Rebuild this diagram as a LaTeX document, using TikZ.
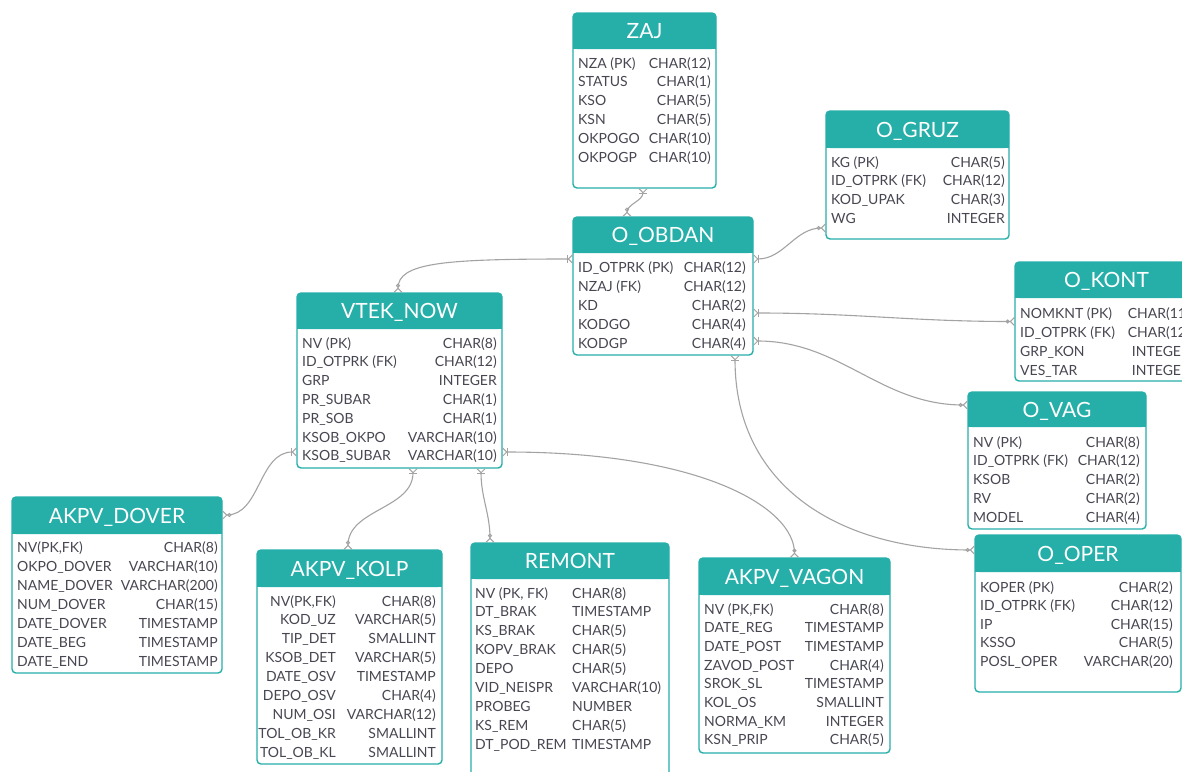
\documentclass[tikz,border=0pt]{standalone}
\usepackage{fontspec}
\setmainfont{Lato}
\usetikzlibrary{arrows.meta,fit}
\definecolor{hdr}{HTML}{26AFA9}
\definecolor{txt}{HTML}{474752}
\definecolor{lnk}{HTML}{A3A3A3}
\tikzset{
  ft/.style={inner sep=0pt, text=txt, font=\fontsize{14}{16}\selectfont, text height=10.1pt, text depth=0pt},
  ttl/.style={inner sep=0pt, text=white, font=\fontsize{21}{23}\selectfont, text height=15.1pt, text depth=0pt},
  bord/.style={draw=hdr, line width=1.4pt},
  rel/.style={draw=lnk, line width=1.1pt,
    {Straight Barb[reversed,length=4pt,width=8pt,line width=1pt] Circle[open,length=4pt,width=4pt,line width=1pt]}-{Bar[width=8pt,line width=1pt] Straight Barb[reversed,length=4pt,width=8pt,line width=1pt]}}
}
% table: name, x1, y1, x2, y-header-bottom, y2, title
\newcommand{\ertbl}[7]{%
  \fill[white, rounded corners=4pt] (#2,#3) rectangle (#4,#6);
  \fill[hdr, rounded corners=4pt] (#2,#3) rectangle (#4,#5);
  \fill[hdr] (#2,{#5-6}) rectangle (#4,#5);
  \draw[bord, rounded corners=4pt] (#2,#3) rectangle (#4,#6);
  \node[fit={(#2,#3) (#4,#6)}, inner sep=0pt] (#1) {};
  \node[ttl] (#1-title) at ({(#2+#4)/2},{(#3+#5)/2}) {#7};
}
% fields: name, xl, xr, y0, dy, name anchor, type anchor, list
\newcommand{\ertfl}[8]{%
  \foreach \a/\b [count=\i] in {#8} {
    \node[ft, anchor=#6] (#1-n\i) at (#2,{#4+(\i-1)*#5}) {\a};
    \node[ft, anchor=#7] (#1-t\i) at (#3,{#4+(\i-1)*#5}) {\b};
  }
}
\begin{document}
\begin{tikzpicture}[x=1pt,y=-1pt]
\useasboundingbox (0,0) rectangle (1182,771);

% ---------- tables ----------
\ertbl{zaj}{573}{13}{716}{49}{188}{ZAJ}
\ertfl{zaj}{578}{711}{63}{18.8}{west}{east}{{NZA (PK)}/{CHAR(12)}, STATUS/{CHAR(1)}, KSO/{CHAR(5)}, KSN/{CHAR(5)}, OKPOGO/{CHAR(10)}, OKPOGP/{CHAR(10)}}

\ertbl{gruz}{826}{111}{1009}{148}{239}{O\_GRUZ}
\ertfl{gruz}{831}{1005}{162}{18.7}{west}{east}{{KG (PK)}/{CHAR(5)}, {ID\_OTPRK (FK)}/{CHAR(12)}, {KOD\_UPAK}/{CHAR(3)}, WG/INTEGER}

\ertbl{obdan}{573}{217}{753}{253}{355}{O\_OBDAN}
\ertfl{obdan}{578}{746}{267}{19}{west}{east}{{ID\_OTPRK (PK)}/{CHAR(12)}, {NZAJ (FK)}/{CHAR(12)}, KD/{CHAR(2)}, KODGO/{CHAR(4)}, KODGP/{CHAR(4)}}

\ertbl{kont}{1015}{262}{1198}{298}{381}{O\_KONT}
\ertfl{kont}{1020}{1190}{313}{19}{west}{east}{{NOMKNT (PK)}/{CHAR(11)}, {ID\_OTPRK (FK)}/{CHAR(12)}, {GRP\_KON}/INTEGER, {VES\_TAR}/INTEGER}

\ertbl{vtek}{297}{293}{502}{329}{468}{VTEK\_NOW}
\ertfl{vtek}{302}{497}{343}{18.8}{west}{east}{{NV (PK)}/{CHAR(8)}, {ID\_OTPRK (FK)}/{CHAR(12)}, GRP/INTEGER, {PR\_SUBAR}/{CHAR(1)}, {PR\_SOB}/{CHAR(1)}, {KSOB\_OKPO}/{VARCHAR(10)}, {KSOB\_SUBAR}/{VARCHAR(10)}}

\ertbl{vag}{968}{392}{1146}{427}{529}{O\_VAG}
\ertfl{vag}{973}{1140}{442}{18.8}{west}{east}{{NV (PK)}/{CHAR(8)}, {ID\_OTPRK (FK)}/{CHAR(12)}, KSOB/{CHAR(2)}, RV/{CHAR(2)}, MODEL/{CHAR(4)}}

\ertbl{dover}{12}{497}{222}{534}{673}{AKPV\_DOVER}
\ertfl{dover}{17}{218}{547}{19}{west}{east}{{NV(PK,FK)}/{CHAR(8)}, {OKPO\_DOVER}/{VARCHAR(10)}, {NAME\_DOVER}/{VARCHAR(200)}, {NUM\_DOVER}/{CHAR(15)}, {DATE\_DOVER}/TIMESTAMP, {DATE\_BEG}/TIMESTAMP, {DATE\_END}/TIMESTAMP}

\ertbl{kolp}{257}{550}{442}{587}{764}{AKPV\_KOLP}
\ertfl{kolp}{336}{436}{601}{18.9}{east}{east}{{NV(PK,FK)}/{CHAR(8)}, {KOD\_UZ}/{VARCHAR(5)}, {TIP\_DET}/SMALLINT, {KSOB\_DET}/{VARCHAR(5)}, {DATE\_OSV}/TIMESTAMP, {DEPO\_OSV}/{CHAR(4)}, {NUM\_OSI}/{VARCHAR(12)}, {TOL\_OB\_KR}/SMALLINT, {TOL\_OB\_KL}/SMALLINT}

\ertbl{remont}{471}{543}{669}{579}{800}{REMONT}
\ertfl{remont}{475}{572}{593}{18.9}{west}{west}{{NV (PK, FK)}/{CHAR(8)}, {DT\_BRAK}/TIMESTAMP, {KS\_BRAK}/{CHAR(5)}, {KOPV\_BRAK}/{CHAR(5)}, DEPO/{CHAR(5)}, {VID\_NEISPR}/{VARCHAR(10)}, PROBEG/NUMBER, {KS\_REM}/{CHAR(5)}, {DT\_POD\_REM}/TIMESTAMP}

\ertbl{vagon}{699}{558}{890}{595}{753}{AKPV\_VAGON}
\ertfl{vagon}{704}{884}{609}{18.7}{west}{east}{{NV (PK,FK)}/{CHAR(8)}, {DATE\_REG}/TIMESTAMP, {DATE\_POST}/TIMESTAMP, {ZAVOD\_POST}/{CHAR(4)}, {SROK\_SL}/TIMESTAMP, {KOL\_OS}/SMALLINT, {NORMA\_KM}/INTEGER, {KSN\_PRIP}/{CHAR(5)}}

\ertbl{oper}{975}{535}{1181}{572}{692}{O\_OPER}
\ertfl{oper}{980}{1173}{587}{18.6}{west}{east}{{KOPER (PK)}/{CHAR(2)}, {ID\_OTPRK (FK)}/{CHAR(12)}, IP/{CHAR(15)}, KSSO/{CHAR(5)}, {POSL\_OPER}/{VARCHAR(20)}}

% ---------- relations (child -> parent) ----------
\draw[rel] ([xshift=-36pt]obdan.north) to[out=90,in=-90] ([xshift=-1.5pt]zaj.south);
\draw[rel] ([yshift=-53pt]gruz.west) to[out=180,in=0] ([yshift=27pt]obdan.east);
\draw[rel] (kont.west) to[out=180,in=0] ([yshift=-27pt]obdan.east);
\draw[rel] ([yshift=55.5pt]vag.west) to[out=180,in=0] ([yshift=-55pt]obdan.east);
\draw[rel] ([yshift=63.5pt]oper.west) to[out=180,in=-90,looseness=1.1] ([xshift=72pt]obdan.south);
\draw[rel] ([xshift=-1.5pt]vtek.north) .. controls +(0,-30) and +(-130,0) .. ([yshift=27pt]obdan.west);
\draw[rel] ([yshift=70pt]dover.east) to[out=0,in=180] ([yshift=-71.5pt]vtek.west);
\draw[rel] ([xshift=-1.5pt]kolp.north) to[out=90,in=-90] ([xshift=13.5pt]vtek.south);
\draw[rel] ([xshift=-80pt]remont.north) to[out=90,in=-90] ([xshift=81.5pt]vtek.south);
\draw[rel] (vagon.north) .. controls +(0,-50) and +(200,0) .. ([yshift=-71.5pt]vtek.east);
\end{tikzpicture}
\end{document}
